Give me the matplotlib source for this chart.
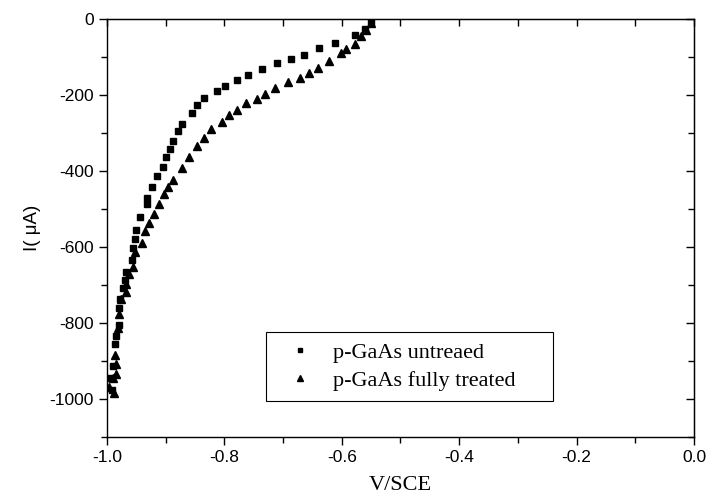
import matplotlib
matplotlib.use('Agg')
import matplotlib.pyplot as plt
from matplotlib.ticker import MultipleLocator

# p-GaAs untreated (squares)
untreated_v = [-0.551, -0.560, -0.577, -0.612, -0.639, -0.665, -0.687, -0.710, -0.736, -0.760,
               -0.778, -0.799, -0.813, -0.834, -0.846, -0.855, -0.872, -0.879, -0.887, -0.893,
               -0.899, -0.905, -0.914, -0.923, -0.931, -0.931, -0.943, -0.950, -0.953, -0.955,
               -0.958, -0.967, -0.970, -0.973, -0.977, -0.979, -0.980, -0.985, -0.987, -0.990,
               -0.994, -0.991]
untreated_i = [-7, -27, -41, -64, -77, -94, -106, -115, -132, -147,
               -161, -175, -189, -207, -227, -248, -275, -296, -322, -342,
               -363, -389, -413, -443, -470, -487, -520, -555, -579, -603,
               -634, -665, -687, -707, -738, -760, -805, -834, -856, -913,
               -946, -975]

# p-GaAs fully treated (triangles)
treated_v = [-0.550, -0.558, -0.567, -0.577, -0.592, -0.601, -0.621, -0.641, -0.656, -0.672,
             -0.692, -0.713, -0.730, -0.745, -0.764, -0.778, -0.792, -0.804, -0.822, -0.834,
             -0.846, -0.861, -0.872, -0.887, -0.896, -0.902, -0.911, -0.920, -0.929, -0.935,
             -0.941, -0.952, -0.955, -0.963, -0.967, -0.968, -0.976, -0.979, -0.982, -0.986,
             -0.985, -0.984, -0.990, -0.997, -0.988]
treated_i = [-11, -29, -45, -66, -79, -90, -111, -130, -143, -154,
             -167, -182, -197, -211, -220, -239, -252, -270, -290, -313,
             -333, -364, -391, -424, -441, -461, -488, -514, -536, -558,
             -590, -612, -652, -671, -698, -718, -738, -776, -812, -884,
             -908, -935, -946, -968, -983]

plt.rcParams['font.family'] = ['Liberation Sans', 'DejaVu Sans']
plt.rcParams['axes.unicode_minus'] = False

fig = plt.figure(figsize=(7.07, 5.0), dpi=100)
ax = fig.add_axes([0.1513, 0.126, 0.8303, 0.836])

ax.plot(untreated_v, untreated_i, linestyle='none', marker='s', markersize=4.0,
        color='black', label='p-GaAs untreaed')
ax.plot(treated_v, treated_i, linestyle='none', marker='^', markersize=5.2,
        color='black', label='p-GaAs fully treated')

ax.set_xlim(-1.0, 0.0)
ax.set_ylim(-1100, 0)
ax.xaxis.set_major_locator(MultipleLocator(0.2))
ax.xaxis.set_minor_locator(MultipleLocator(0.1))
ax.yaxis.set_minor_locator(MultipleLocator(100))
ax.set_yticks([0, -200, -400, -600, -800, -1000])

for s in ax.spines.values():
    s.set_linewidth(1.0)

ax.tick_params(axis='both', which='both', direction='out', top=False, right=False,
               labelsize=12.5, width=1.0)
ax.tick_params(which='major', length=6)
ax.tick_params(which='minor', length=4)

# inward ticks on the top and right edges
ax_top = ax.secondary_xaxis('top')
ax_top.xaxis.set_major_locator(MultipleLocator(0.1))
ax_top.tick_params(direction='in', length=5, width=1.0, labeltop=False)
ax_right = ax.secondary_yaxis('right')
ax_right.yaxis.set_major_locator(MultipleLocator(200))
ax_right.yaxis.set_minor_locator(MultipleLocator(100))
ax_right.tick_params(which='major', direction='in', length=6, width=1.0, labelright=False)
ax_right.tick_params(which='minor', direction='in', length=4, width=1.0)

ax.set_xlabel('V/SCE', family=['Liberation Serif', 'DejaVu Serif'], fontsize=16, labelpad=8)
ax.set_ylabel('I( μA)', fontsize=13.5, labelpad=6)

leg = ax.legend(loc='lower left', bbox_to_anchor=(0.271, 0.086, 0.489, 0.168), mode='expand',
                prop={'family': ['Liberation Serif', 'DejaVu Serif'], 'size': 16},
                frameon=True, fancybox=False, edgecolor='black', framealpha=1,
                markerscale=0.85, handlelength=2.2, handletextpad=0.35, borderpad=0.45,
                labelspacing=0.35, borderaxespad=0)
leg.get_frame().set_linewidth(0.8)

fig.savefig('out.png', dpi=100)
